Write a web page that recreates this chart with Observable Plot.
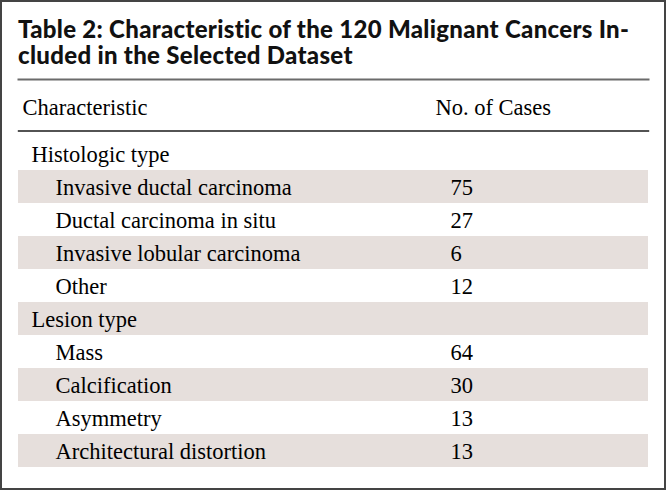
<!DOCTYPE html>
<html><head><meta charset="utf-8">
<script src="https://cdn.jsdelivr.net/npm/d3@7"></script>
<script src="https://cdn.jsdelivr.net/npm/@observablehq/plot@0.6"></script>
<style>
html,body{margin:0;padding:0;background:#fff;}
#card{width:666px;height:490px;box-sizing:border-box;border:2px solid #444;background:#fff;}
#title{margin-left:16px;padding-top:14px;height:52px;font-family:Lato,sans-serif;font-weight:900;font-size:24px;line-height:26px;letter-spacing:0.3px;color:#111;white-space:nowrap;}
#chart{margin-top:2px;font-family:"Liberation Serif",serif;}
#chart svg, #chart svg text{font-family:"Liberation Serif",serif !important;}
</style></head><body>
<div id="card"><div id="title"></div><div id="chart"></div></div>
<script>
const titleLines = ["Table 2: Characteristic of the 120 Malignant Cancers In-", "cluded in the Selected Dataset"];
const headers = ["Characteristic", "No. of Cases"];
const rowLabels = ["Histologic type", "Invasive ductal carcinoma", "Ductal carcinoma in situ", "Invasive lobular carcinoma", "Other",
  "Lesion type", "Mass", "Calcification", "Asymmetry", "Architectural distortion"];
const rowLevels = [0, 1, 1, 1, 1, 0, 1, 1, 1, 1];
const rowCases = [null, 75, 27, 6, 12, null, 64, 30, 13, 13];

const titleEl = document.getElementById("title");
titleLines.forEach(t => { const d = document.createElement("div"); d.textContent = t; titleEl.appendChild(d); });

const rows = rowLabels.map((label, i) => ({i, label, level: rowLevels[i], cases: rowCases[i]}));
const fs = 22.5;
const ff = "Liberation Serif";
const headerX = [20, 433];
const svg = Plot.plot({
  width: 662, height: 418,
  marginTop: 9, marginLeft: 16, marginRight: 16, marginBottom: 18,
  style: {fontFamily: ff},
  x: {domain: [16, 646], axis: null},
  y: {type: "band", domain: rows.map(d => d.i), padding: 0, insetTop: 55, axis: null},
  marks: [
    Plot.barX(rows.filter(d => d.i % 2 === 1), {y: "i", x1: 16, x2: 646, fill: "#e6dfdc"}),
    Plot.frame({anchor: "top", stroke: "#6b6b6b", strokeWidth: 2}),
    Plot.frame({anchor: "top", insetTop: 51.5, stroke: "#1a1a1a", strokeWidth: 1.4}),
    Plot.text(headers, {x: (d, i) => headerX[i], text: d => d, frameAnchor: "top", lineAnchor: "middle", dy: 28, textAnchor: "start", fontSize: fs, fontFamily: ff}),
    Plot.text(rows.filter(d => d.level === 0), {x: 29, y: "i", text: "label", textAnchor: "start", lineAnchor: "middle", dy: 1, fontSize: fs, fontFamily: ff}),
    Plot.text(rows.filter(d => d.level === 1), {x: 53, y: "i", text: "label", textAnchor: "start", lineAnchor: "middle", dy: 1, fontSize: fs, fontFamily: ff}),
    Plot.text(rows.filter(d => d.cases != null), {x: 448, y: "i", text: d => String(d.cases), textAnchor: "start", lineAnchor: "middle", dy: 1, fontSize: fs, fontFamily: ff})
  ]
});
svg.setAttribute("font-family", ff);
svg.querySelectorAll("g, text").forEach(el => {
  el.setAttribute("font-family", ff);
  el.style.setProperty("font-family", "'Liberation Serif', serif", "important");
});
document.getElementById("chart").appendChild(svg);
</script>
</body></html>
